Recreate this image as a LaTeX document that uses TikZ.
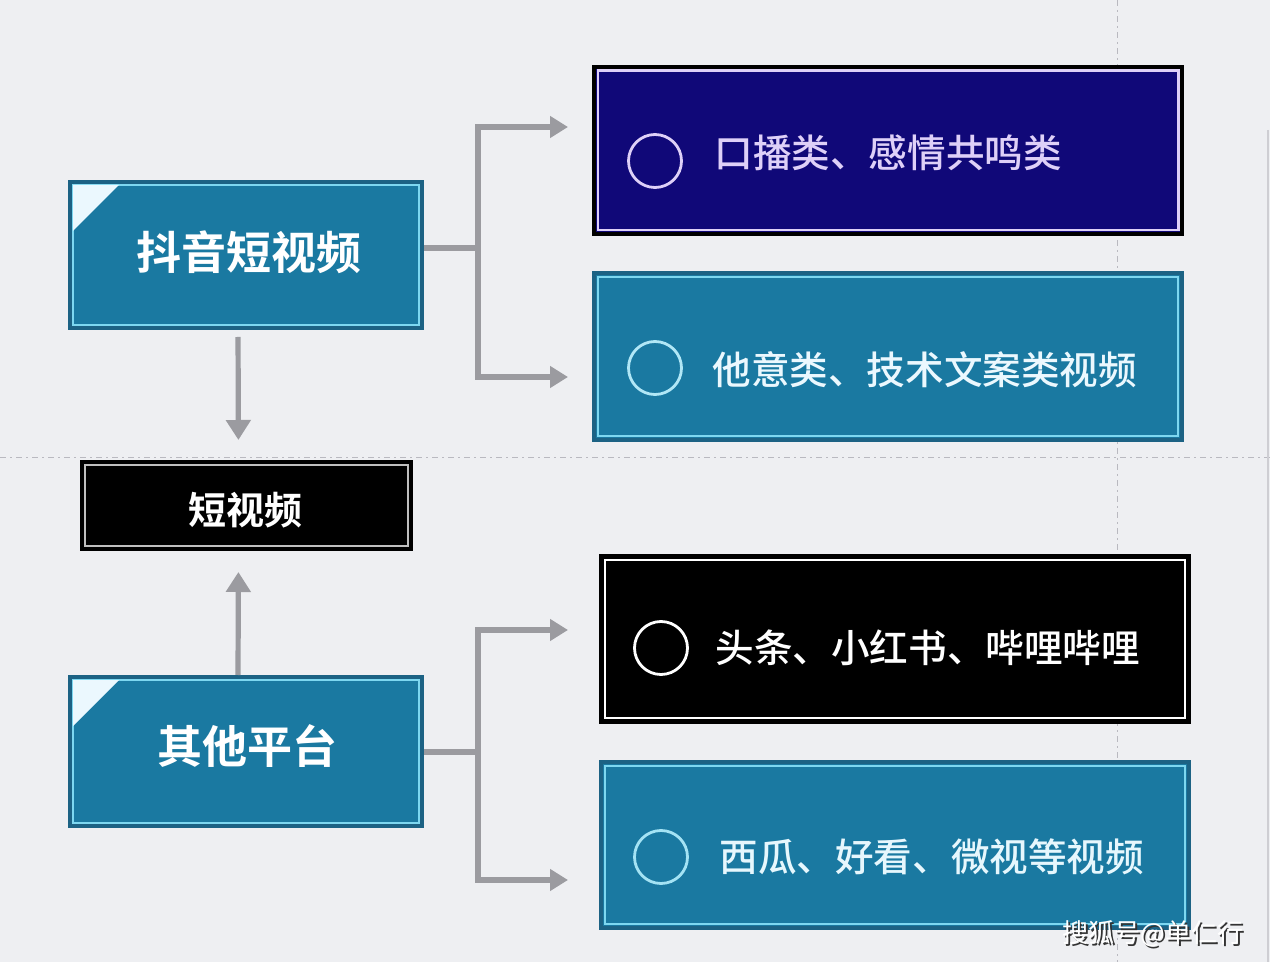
\documentclass[tikz,border=0pt]{standalone}
\usepackage{fontspec}
\newfontfamily\cjk{Noto Sans CJK SC Medium}
\newfontfamily\cjkr{Noto Sans CJK SC}
\newfontfamily\cjkb{Noto Sans CJK SC Bold}
\usetikzlibrary{arrows.meta}
\definecolor{bg}{RGB}{238,239,242}
\definecolor{tealfill}{RGB}{26,121,161}
\definecolor{tealedge}{RGB}{28,98,132}
\definecolor{cyanline}{RGB}{125,215,240}
\definecolor{navyfill}{RGB}{16,8,120}
\definecolor{lavender}{RGB}{222,208,248}
\definecolor{conncol}{RGB}{155,155,160}
\definecolor{guide}{RGB}{185,185,192}
\tikzset{
  tealbox/.style={draw=tealedge, line width=2pt, fill=tealfill, inner sep=0pt},
  navybox/.style={draw=black, line width=2.2pt, fill=navyfill, inner sep=0pt},
  blackbox/.style={draw=black, line width=2pt, fill=black, inner sep=0pt},
  innerline/.style={line width=1.3pt},
  conn/.style={draw=conncol, line width=2.6pt},
  arr/.style={conn, -{Triangle[length=9pt,width=10.5pt]}},
  varr/.style={conn, -{Triangle[length=10pt,width=12pt]}},
  bigtitle/.style={text=white, font=\cjkb\fontsize{22.5}{26}\selectfont},
  midtitle/.style={text=white, font=\cjkb\fontsize{19}{22}\selectfont},
  itemtext/.style={anchor=west, inner sep=0pt, font=\cjk\fontsize{19.3}{22}\selectfont},
  bullet/.style={circle, draw, line width=1.4pt, minimum size=26.5pt, inner sep=0pt},
}
\begin{document}
\begin{tikzpicture}[x=0.5pt,y=-0.5pt]
\useasboundingbox (0,0) rectangle (1270,962);
\fill[bg] (0,0) rectangle (1270,962);
% faint guide lines
\draw[guide, line width=0.5pt, dash pattern=on 3pt off 2pt on 1pt off 2pt] (0,458) -- (1270,458);
\draw[guide, line width=0.5pt, dash pattern=on 3pt off 2pt on 1pt off 2pt] (1117,0) -- (1117,962);
\draw[guide!70, line width=0.6pt] (1268,130) -- (1268,962);

% left boxes
\node[tealbox, minimum width=176pt, minimum height=73pt] (dy) at (246,255) {};
\node[bigtitle] (dyt) at (249,252) {抖音短视频};
\node[blackbox, minimum width=164.5pt, minimum height=43.5pt] (sv) at (246.5,505.5) {};
\node[midtitle] (svt) at (245,510) {短视频};
\node[tealbox, minimum width=176pt, minimum height=74.5pt] (op) at (246,751.5) {};
\node[bigtitle] (opt) at (247,746) {其他平台};

% right boxes
\node[navybox, minimum width=294pt, minimum height=83.5pt] (r1) at (888,150.5) {};
\node[tealbox, minimum width=294pt, minimum height=83.5pt] (r2) at (888,356.5) {};
\node[blackbox, minimum width=294pt, minimum height=83pt] (r3) at (895,639) {};
\node[tealbox, minimum width=294pt, minimum height=83pt] (r4) at (895,845) {};

% inner lines
\draw[innerline, cyanline] ([shift={(5,5)}]dy.north west) rectangle ([shift={(-5,-5)}]dy.south east);
\draw[innerline, cyanline] ([shift={(5,5)}]op.north west) rectangle ([shift={(-5,-5)}]op.south east);
\draw[innerline, white!75!black] ([shift={(5,5)}]sv.north west) rectangle ([shift={(-5,-5)}]sv.south east);
\draw[innerline, lavender] ([shift={(6,6)}]r1.north west) rectangle ([shift={(-6,-6)}]r1.south east);
\draw[innerline, cyanline] ([shift={(6,6)}]r2.north west) rectangle ([shift={(-6,-6)}]r2.south east);
\draw[innerline, white] ([shift={(6,6)}]r3.north west) rectangle ([shift={(-6,-6)}]r3.south east);
\draw[innerline, cyanline] ([shift={(6,6)}]r4.north west) rectangle ([shift={(-6,-6)}]r4.south east);

% corner triangles
\fill[white!92!cyan] ([shift={(5,5)}]dy.north west) -- ++(46,0) -- ++(-46,46) -- cycle;
\fill[white!92!cyan] ([shift={(5,5)}]op.north west) -- ++(46,0) -- ++(-46,46) -- cycle;

% bullets and item texts
\node[bullet, draw=lavender] (b1) at (655,161) {};
\node[itemtext, text=lavender] (t1) at (714,153) {口播类、感情共鸣类};
\node[bullet, draw=cyanline!60!white] (b2) at (655,368) {};
\node[itemtext, text=white!92!cyan] (t2) at (712,370) {他意类、技术文案类视频};
\node[bullet, draw=white] (b3) at (661,648) {};
\node[itemtext, text=white] (t3) at (715,648) {头条、小红书、哔哩哔哩};
\node[bullet, draw=cyanline!70!white] (b4) at (661,857) {};
\node[itemtext, text=white!90!cyan] (t4) at (719,857) {西瓜、好看、微视等视频};

% connectors
\coordinate (j1) at (478,248);
\coordinate (a1) at (568,127);
\coordinate (a2) at (568,377);
\coordinate (j2) at (478,752);
\coordinate (a3) at (568,630);
\coordinate (a4) at (568,880);
\draw[conn] (j1 -| dy.east) -- (j1);
\draw[arr] (j1) |- (a1);
\draw[arr] (j1) |- (a2);
\draw[conn] (j2 -| op.east) -- (j2);
\draw[arr] (j2) |- (a3);
\draw[arr] (j2) |- (a4);
\draw[varr, shorten <=3.5pt, shorten >=10pt] ([xshift=-4]dy.south) -- ([xshift=-4]sv.north);
\draw[varr, shorten >=10.5pt] ([xshift=-4]op.north) -- ([xshift=-4]sv.south);

% watermark
\node[anchor=west, inner sep=0pt, text=black!80, font=\cjkr\fontsize{13}{16}\selectfont] (wms) at (1064,936) {搜狐号@单仁行};
\node[anchor=west, inner sep=0pt, text=white, font=\cjkr\fontsize{13}{16}\selectfont] (wm) at (1062,934) {搜狐号@单仁行};
\end{tikzpicture}
\end{document}
